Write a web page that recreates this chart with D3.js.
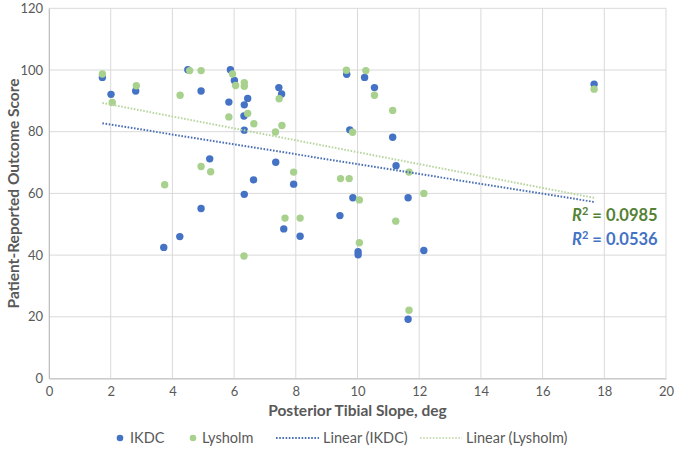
<!DOCTYPE html>
<html>
<head>
<meta charset="utf-8">
<script src="https://cdn.jsdelivr.net/npm/d3@7"></script>
<style>
  html, body { margin: 0; padding: 0; background: #ffffff; }
  svg { display: block; font-family: Lato, "Open Sans", sans-serif; }
</style>
</head>
<body>
<svg id="chart" width="680" height="460"></svg>
<script>
// ---- data ----
const ikdcX = [1.73, 2.01, 2.81, 3.72, 4.24, 4.50, 4.93, 4.93, 5.21, 5.88, 6.01, 5.83, 6.44, 6.33, 6.32, 6.33, 6.63, 6.33, 7.45, 7.54, 7.35, 7.93, 7.61, 8.14, 9.43, 9.65, 10.23, 10.55, 9.75, 11.14, 11.25, 9.85, 11.64, 10.02, 10.02, 12.15, 11.64, 17.67];
const ikdcY = [97.6, 92.1, 93.2, 42.5, 46.0, 100.1, 93.2, 55.1, 71.2, 100.1, 96.6, 89.6, 90.8, 88.7, 85.1, 80.5, 64.4, 59.7, 94.3, 92.2, 70.1, 63.0, 48.5, 46.1, 52.8, 98.6, 97.6, 94.3, 80.6, 78.2, 69.0, 58.6, 58.6, 41.1, 40.1, 41.5, 19.2, 95.4];
const lysX = [1.73, 2.05, 2.83, 3.75, 4.25, 4.56, 4.93, 4.93, 5.24, 5.95, 6.05, 5.83, 6.33, 6.33, 6.44, 6.64, 6.32, 7.46, 7.55, 7.34, 7.93, 7.65, 8.14, 9.45, 9.73, 9.64, 10.27, 10.55, 11.14, 9.84, 11.67, 10.06, 12.15, 11.24, 10.06, 11.67, 17.67];
const lysY = [98.7, 89.5, 94.9, 62.8, 91.8, 99.8, 99.8, 68.7, 67.0, 98.7, 95.0, 84.8, 95.9, 94.7, 85.9, 82.6, 39.7, 90.7, 82.0, 79.9, 66.9, 52.0, 52.0, 64.8, 64.8, 99.9, 99.8, 91.8, 86.9, 79.8, 66.9, 57.9, 60.0, 51.0, 44.0, 22.1, 93.8];
// linear trend [intercept, slope] and R² labels
const trendIKDC = [85.5, -1.60];
const trendLys = [92.66, -1.93];
const r2Labels = ["0.0985", "0.0536"];
const xTicks = [0, 2, 4, 6, 8, 10, 12, 14, 16, 18, 20];
const yTicks = [0, 20, 40, 60, 80, 100, 120];
const legendLabels = ["IKDC", "Lysholm", "Linear (IKDC)", "Linear (Lysholm)"];

// ---- layout ----
const W = 680, H = 460;
const m = { left: 49, right: 14, top: 8.3, bottom: 81.5 };
const svg = d3.select("#chart");
const x = d3.scaleLinear().domain([0, 20]).range([m.left, W - m.right]);
const y = d3.scaleLinear().domain([0, 120]).range([H - m.bottom, m.top]);

const BLUE = "#4472C4", GREEN = "#A9D18E", TEXT = "#595959", GRID = "#D9D9D9";

// gridlines
svg.append("g").selectAll("line").data(yTicks).join("line")
  .attr("x1", x(0)).attr("x2", x(20))
  .attr("y1", d => y(d)).attr("y2", d => y(d))
  .attr("stroke", GRID).attr("stroke-width", 1);
svg.append("g").selectAll("line").data(xTicks).join("line")
  .attr("x1", d => x(d)).attr("x2", d => x(d))
  .attr("y1", y(0)).attr("y2", y(120))
  .attr("stroke", GRID).attr("stroke-width", 1);

// axes
const xAxis = svg.append("g").attr("transform", `translate(0,${y(0)})`)
  .call(d3.axisBottom(x).tickValues(xTicks).tickSize(0).tickPadding(8));
const yAxis = svg.append("g").attr("transform", `translate(${x(0)},0)`)
  .call(d3.axisLeft(y).tickValues(yTicks).tickSize(0).tickPadding(6));
[xAxis, yAxis].forEach(a => {
  a.select(".domain").attr("stroke", "#BFBFBF");
  a.selectAll("text").attr("fill", TEXT).attr("font-size", 13)
    .attr("font-family", "Lato, 'Open Sans', sans-serif");
});

// trendlines
function trend(coef, xs, color, dash, width) {
  const ext = d3.extent(xs);
  svg.append("line")
    .attr("x1", x(ext[0])).attr("y1", y(coef[0] + coef[1] * ext[0]))
    .attr("x2", x(ext[1])).attr("y2", y(coef[0] + coef[1] * ext[1]))
    .attr("stroke", color).attr("stroke-width", width)
    .attr("stroke-dasharray", dash);
}

// points
function dots(xs, ys, color) {
  svg.append("g").selectAll("circle").data(xs.map((v, i) => [v, ys[i]])).join("circle")
    .attr("cx", d => x(d[0])).attr("cy", d => y(d[1])).attr("r", 3.7)
    .attr("fill", color);
}
dots(ikdcX, ikdcY, BLUE);
dots(lysX, lysY, GREEN);
trend(trendIKDC, ikdcX, "#4A6FB5", "1.6,1.6", 2);
trend(trendLys, lysX, "#B9D5A0", "1.6,1.6", 2);

// R² labels
const r2Colors = ["#548235", BLUE];
r2Labels.forEach((v, i) => {
  const t = svg.append("text").attr("x", 572).attr("y", 221 + i * 23.5)
    .attr("font-size", 16.5).attr("font-weight", "bold").attr("fill", r2Colors[i]);
  t.append("tspan").attr("font-style", "italic").text("R");
  t.append("tspan").attr("font-size", 11).attr("dy", -6).text("2");
  t.append("tspan").attr("dy", 6).text(" = " + v);
});

// axis titles
svg.append("text").attr("x", (x(0) + x(20)) / 2).attr("y", 416)
  .attr("text-anchor", "middle").attr("font-size", 15.5).attr("font-weight", "bold")
  .attr("fill", TEXT).text("Posterior Tibial Slope, deg");
svg.append("text").attr("transform", `translate(19,${(y(0) + y(120)) / 2}) rotate(-90)`)
  .attr("text-anchor", "middle").attr("font-size", 15.5).attr("font-weight", "bold")
  .attr("fill", TEXT).text("Patient-Reported Outcome Score");

// legend
const ly = 438;
const lg = svg.append("g");
const legendItems = [
  { type: "dot", color: BLUE, sx: 120, tx: 130 },
  { type: "dot", color: GREEN, sx: 193, tx: 202 },
  { type: "line", color: "#4A6FB5", sx: 276, ex: 319, tx: 323 },
  { type: "line", color: "#C9DFB8", sx: 420, ex: 462, tx: 466 }
];
legendItems.forEach((it, i) => {
  if (it.type === "dot") {
    lg.append("circle").attr("cx", it.sx).attr("cy", ly).attr("r", 3.3).attr("fill", it.color);
  } else {
    lg.append("line").attr("x1", it.sx).attr("x2", it.ex).attr("y1", ly).attr("y2", ly)
      .attr("stroke", it.color).attr("stroke-width", 2).attr("stroke-dasharray", "1.6,1.6");
  }
  lg.append("text").attr("x", it.tx).attr("y", ly + 5).attr("font-size", 14.5)
    .attr("fill", TEXT).text(legendLabels[i]);
});
</script>
</body>
</html>
